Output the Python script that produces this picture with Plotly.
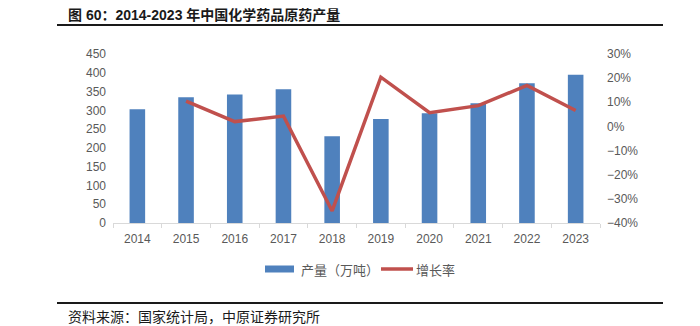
import plotly.graph_objects as go

years = ["2014", "2015", "2016", "2017", "2018", "2019", "2020", "2021", "2022", "2023"]
output = [303, 335, 342, 356, 231, 277, 292, 319, 372, 395]
growth_years = ["2015", "2016", "2017", "2018", "2019", "2020", "2021", "2022", "2023"]
growth = [0.105, 0.020, 0.043, -0.350, 0.204, 0.057, 0.086, 0.170, 0.066]
left_ticks = [0, 50, 100, 150, 200, 250, 300, 350, 400, 450]
right_ticks = [-0.4, -0.3, -0.2, -0.1, 0.0, 0.1, 0.2, 0.3]
bar_name = "产量（万吨）"
line_name = "增长率"

W, H = 700, 326
L, R, T, B = 113, 600, 54, 223
pw, ph = R - L, B - T

def px(x):
    return (x - L) / pw

def py(y):
    return (B - y) / ph

BLUE = "#4F81BD"
RED = "#C0504D"
tick_font = dict(family="Liberation Sans, Arial", size=12, color="#595959")
cjk = "Noto Sans CJK SC"

fig = go.Figure()
fig.add_trace(go.Bar(
    x=years, y=output, name=bar_name,
    marker=dict(color=BLUE, line=dict(width=0)),
    width=0.32, yaxis="y", showlegend=False,
))
fig.add_trace(go.Scatter(
    x=growth_years, y=growth, name=line_name, mode="lines",
    line=dict(color=RED, width=3.5), yaxis="y2", showlegend=False,
))

leg_y = 269
fig.update_layout(
    width=W, height=H,
    margin=dict(l=L, r=W - R, t=T, b=H - B, pad=0),
    paper_bgcolor="white", plot_bgcolor="white",
    showlegend=False,
    xaxis=dict(
        type="category", categoryorder="array", categoryarray=years,
        showline=True, linecolor="#D9D9D9", linewidth=1,
        ticks="outside", tickson="boundaries", ticklen=4, tickcolor="#D9D9D9",
        showgrid=False, tickfont=tick_font, range=[-0.5, 9.5],
        ticklabelstandoff=5,
    ),
    yaxis=dict(
        range=[0, 450], tickvals=left_ticks, showgrid=False, zeroline=False,
        showline=False, tickfont=tick_font, ticklabelstandoff=6,
    ),
    yaxis2=dict(
        range=[-0.4, 0.3], tickvals=right_ticks, tickformat=".0%",
        overlaying="y", side="right", showgrid=False, zeroline=False,
        showline=False, tickfont=tick_font, ticklabelstandoff=6,
    ),
    shapes=[
        dict(type="line", xref="paper", yref="paper", x0=px(57), x1=px(663),
             y0=py(25), y1=py(25), line=dict(color="#1a1a1a", width=2.2)),
        dict(type="line", xref="paper", yref="paper", x0=px(57), x1=px(663),
             y0=py(303), y1=py(303), line=dict(color="#1a1a1a", width=2.2)),
        # legend swatches
        dict(type="rect", xref="paper", yref="paper", x0=px(265), x1=px(294),
             y0=py(leg_y - 3.5), y1=py(leg_y + 3.5), fillcolor=BLUE, line=dict(width=0)),
        dict(type="line", xref="paper", yref="paper", x0=px(381), x1=px(413),
             y0=py(leg_y), y1=py(leg_y), line=dict(color=RED, width=3.5)),
    ],
    annotations=[
        dict(text="<b>图 60：2014-2023 年中国化学药品原药产量</b>", xref="paper", yref="paper",
             x=px(66), y=py(15), xanchor="left", yanchor="middle", showarrow=False,
             font=dict(family="Liberation Sans, " + cjk, size=14, color="#1a1a1a")),
        dict(text="资料来源：国家统计局，中原证券研究所", xref="paper", yref="paper",
             x=px(66), y=py(316), xanchor="left", yanchor="middle", showarrow=False,
             font=dict(family=cjk, size=14, color="#1a1a1a")),
        dict(text=bar_name, xref="paper", yref="paper",
             x=px(299), y=py(leg_y), xanchor="left", yanchor="middle", showarrow=False,
             font=dict(family=cjk, size=13, color="#595959")),
        dict(text=line_name, xref="paper", yref="paper",
             x=px(414), y=py(leg_y), xanchor="left", yanchor="middle", showarrow=False,
             font=dict(family=cjk, size=13, color="#595959")),
    ],
)

fig.write_html("out.html")
